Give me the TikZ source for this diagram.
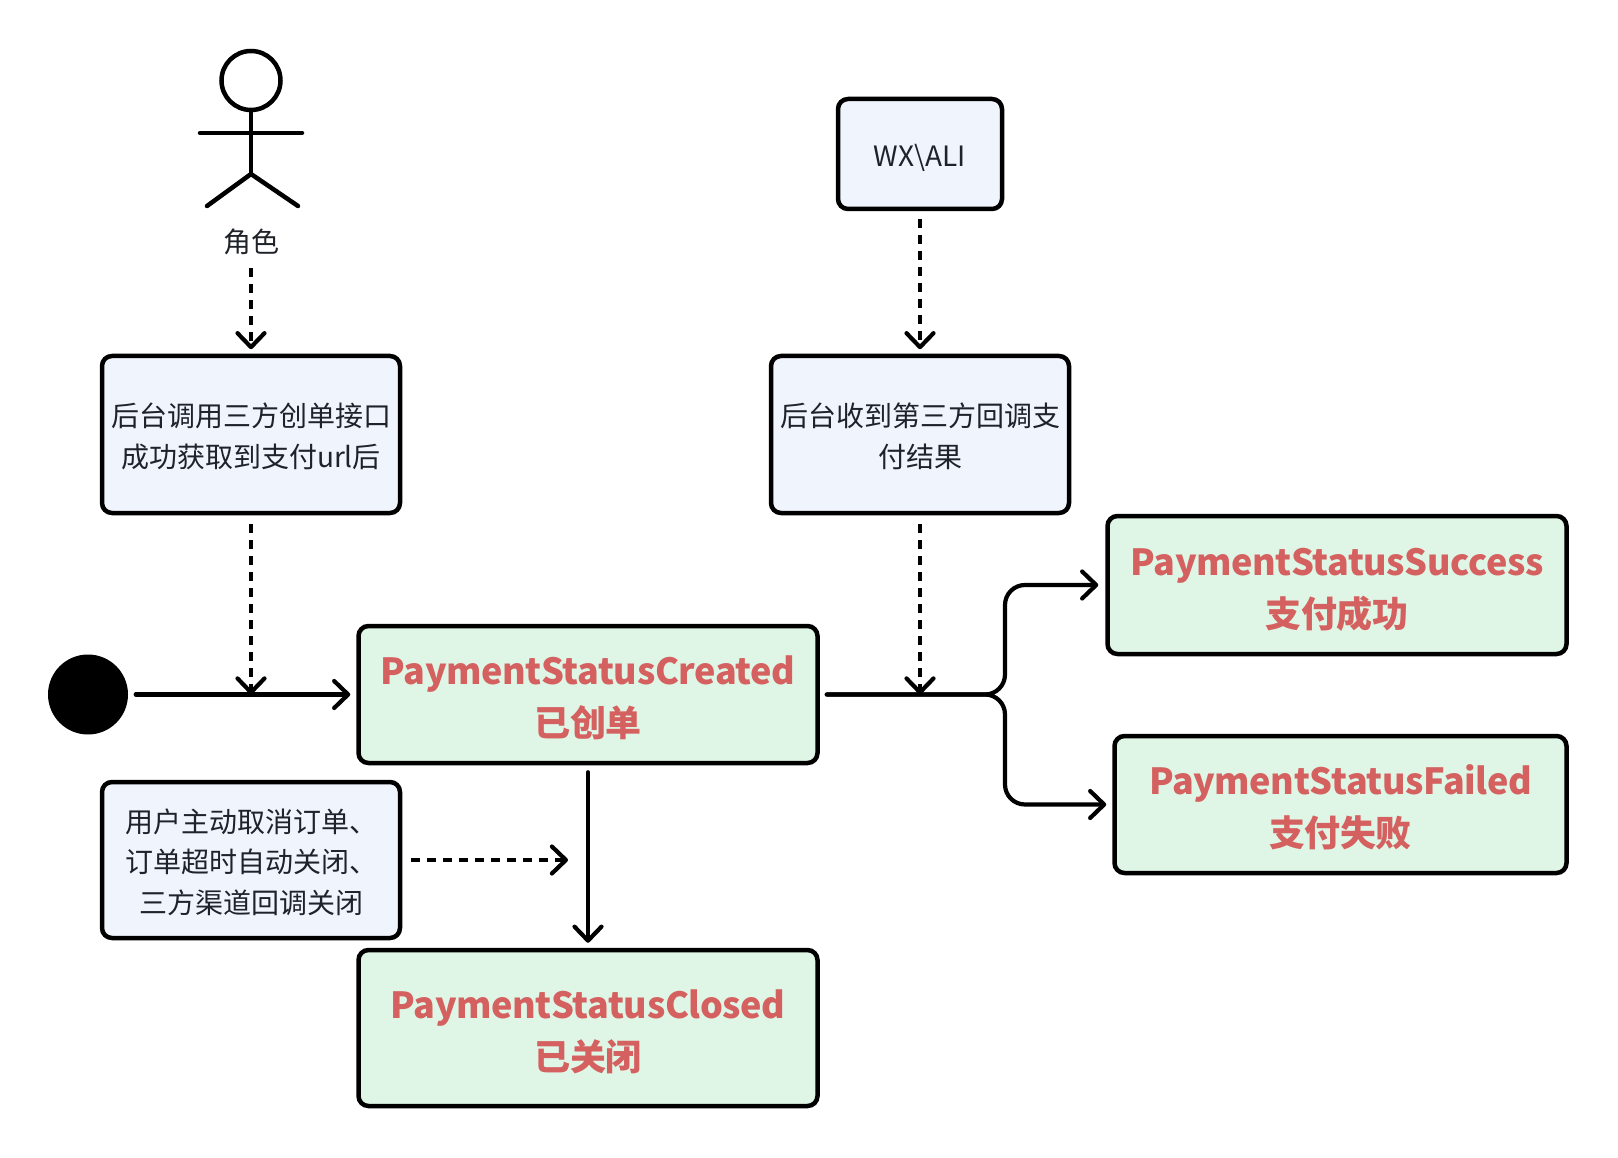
\documentclass[tikz,border=0pt]{standalone}
\usepackage{fontspec}
\setmainfont{Noto Sans CJK SC}
\usetikzlibrary{arrows.meta}
\definecolor{notefill}{HTML}{F0F4FD}
\definecolor{statusfill}{HTML}{DFF5E5}
\definecolor{statustext}{HTML}{D4605F}
\definecolor{notetext}{HTML}{1F2329}
\tikzset{
  >={Straight Barb[round,length=14pt,width=27pt]},
  notebox/.style={draw, line width=4.5pt, rounded corners=10pt, fill=notefill, text=notetext, inner sep=0pt, align=center, text depth=0pt, text height=65.5pt, font=\fontsize{28}{40.5}\selectfont},
  statusbox/.style={draw, line width=4.5pt, rounded corners=10pt, fill=statusfill, text=statustext, inner sep=0pt, align=center, text depth=0pt, text height=84pt, font=\fontsize{36}{52}\selectfont\bfseries\addfontfeatures{LetterSpace=-1.15}},
  flow/.style={->, line width=4.2pt, line cap=round},
  dashflow/.style={flow, line cap=butt, dash pattern=on 9pt off 7pt},
  actorline/.style={line width=4.5pt, line cap=round, line join=round}
}
\begin{document}
\begin{tikzpicture}[x=1pt, y=-1pt]
  \useasboundingbox (0, 0) rectangle (1618, 1158);

  \node (head) [circle, draw, line width=4.5pt, minimum size=59pt, inner sep=0pt] at (251, 80.5) {};
  \coordinate (neck) at (251, 133);
  \coordinate (hip) at (251, 174);
  \coordinate (armL) at (200, 133);
  \coordinate (armR) at (302, 133);
  \coordinate (legL) at (207, 206);
  \coordinate (legR) at (298, 206);
  \node (role) [text=notetext, inner sep=0pt, minimum height=36pt, font=\fontsize{28}{32}\selectfont] at (251, 242) {角色};

  \node (wx) [notebox, text height=26pt, minimum width=164pt, minimum height=110pt] at (920, 154) {WX\textbackslash ALI};
  \node (create) [notebox, minimum width=298pt, minimum height=157pt] at (251, 434.5) {后台调用三方创单接口\\成功获取到支付url后};
  \node (notify) [notebox, minimum width=298pt, minimum height=157pt] at (920, 434.5) {后台收到第三方回调支\\付结果};
  \node (cancel) [notebox, text height=106pt, minimum width=298pt, minimum height=156pt] at (251, 860) {用户主动取消订单、\\订单超时自动关闭、\\三方渠道回调关闭};

  \node (start) [circle, fill=black, minimum size=80pt, inner sep=0pt] at (88, 694.5) {};
  \node (created) [statusbox, minimum width=459pt, minimum height=137pt] at (588, 694.5) {PaymentStatusCreated\\已创单};
  \node (closed) [statusbox, minimum width=459pt, minimum height=156pt] at (588, 1028) {PaymentStatusClosed\\已关闭};
  \node (success) [statusbox, minimum width=459pt, minimum height=138pt] at (1337, 585) {PaymentStatusSuccess\\支付成功};
  \node (failed) [statusbox, minimum width=452pt, minimum height=137pt] at (1340.5, 804.5) {PaymentStatusFailed\\支付失败};

  \coordinate (joinA) at (251, 694.5);
  \coordinate (joinB) at (920, 694.5);
  \coordinate (joinC) at (568, 860);
  \coordinate (fork) at (1005, 694.5);

  \draw [actorline] (head) to (hip);
  \draw [actorline] (armL) to (armR);
  \draw [actorline] (legL) to (hip) to (legR);

  \draw [dashflow, shorten <=8pt, shorten >=4.5pt] (role) to (role |- create.north);
  \draw [dashflow, shorten <=8pt, shorten >=4.5pt] (wx) to (notify);
  \draw [dashflow, shorten <=9pt] (create) to (joinA);
  \draw [dashflow, shorten <=9pt] (notify) to (joinB);
  \draw [dashflow, shorten <=9pt] (cancel) to (joinC);

  \draw [flow, shorten <=7.5pt, shorten >=6pt] (start) to (created);
  \draw [flow, shorten <=7pt, shorten >=5pt] (created) to (closed);
  \draw [flow, rounded corners=20pt, shorten <=7pt, shorten >=7pt] (created.east) -- (fork) |- (success.west);
  \draw [flow, rounded corners=20pt, shorten <=7pt, shorten >=6pt] (created.east) -- (fork) |- (failed.west);
\end{tikzpicture}
\end{document}
